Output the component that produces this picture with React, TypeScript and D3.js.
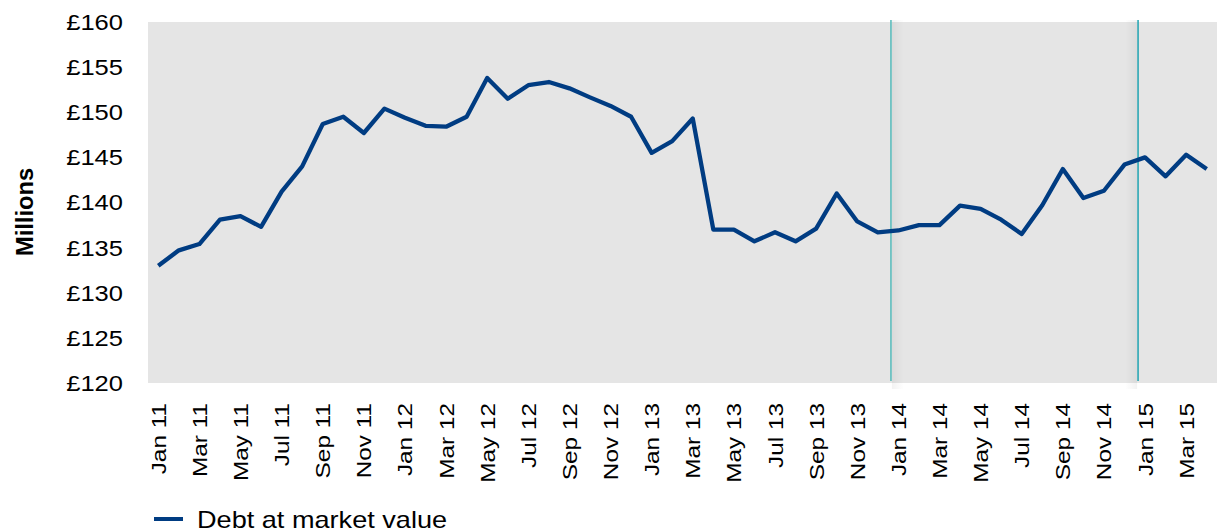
import React from "react";
import * as d3 from "d3";

const months = [
  "Jan 11","Feb 11","Mar 11","Apr 11","May 11","Jun 11","Jul 11","Aug 11","Sep 11","Oct 11","Nov 11","Dec 11",
  "Jan 12","Feb 12","Mar 12","Apr 12","May 12","Jun 12","Jul 12","Aug 12","Sep 12","Oct 12","Nov 12","Dec 12",
  "Jan 13","Feb 13","Mar 13","Apr 13","May 13","Jun 13","Jul 13","Aug 13","Sep 13","Oct 13","Nov 13","Dec 13",
  "Jan 14","Feb 14","Mar 14","Apr 14","May 14","Jun 14","Jul 14","Aug 14","Sep 14","Oct 14","Nov 14","Dec 14",
  "Jan 15","Feb 15","Mar 15","Apr 15",
];

const debtAtMarketValue = [
  133.0,134.7,135.4,138.1,138.5,137.3,141.2,144.0,148.7,149.5,147.7,150.4,
  149.4,148.5,148.4,149.5,153.8,151.5,153.0,153.35,152.65,151.65,150.7,149.5,
  145.5,146.8,149.3,137.0,137.0,135.7,136.7,135.7,137.1,141.0,137.9,136.7,
  136.9,137.5,137.5,139.65,139.3,138.1,136.5,139.7,143.7,140.5,141.3,144.2,
  145.0,142.9,145.3,143.7,
];

const yTicks = [120, 125, 130, 135, 140, 145, 150, 155, 160];

// vertical markers: [month label, fraction of a month after it, shadow side, colour]
const markers: [string, number, "right" | "left", string][] = [
  ["Dec 13", 0.64, "right", "#5cbcbc"],
  ["Dec 14", 0.66, "left", "#2ba6b4"],
];

const FONT = "'Liberation Sans', Arial, sans-serif";
const W = 1217, H = 531;
const plot = { left: 148, right: 1217, top: 22, bottom: 383 };

export default function App() {
  const x = d3.scaleBand<string>().domain(months).range([plot.left, plot.right]).padding(0);
  const bw = x.bandwidth();
  const cx = (m: string) => (x(m) as number) + bw / 2;
  const y = d3.scaleLinear().domain([120, 160]).range([plot.bottom, plot.top]);

  const line = d3
    .line<number>()
    .x((_, i) => cx(months[i]))
    .y((d) => y(d))
    .curve(d3.curveLinear);

  const tickMonths = months.filter((_, i) => i % 2 === 0);

  return (
    <svg width={W} height={H} style={{ position: "absolute", left: 0, top: 0 }} fontFamily={FONT}>
      <defs>
        <linearGradient id="shR" x1="0" x2="1" y1="0" y2="0">
          <stop offset="0" stopColor="#000" stopOpacity="0.05" />
          <stop offset="1" stopColor="#000" stopOpacity="0" />
        </linearGradient>
        <linearGradient id="shL" x1="1" x2="0" y1="0" y2="0">
          <stop offset="0" stopColor="#000" stopOpacity="0.05" />
          <stop offset="1" stopColor="#000" stopOpacity="0" />
        </linearGradient>
      </defs>
      <rect x={plot.left} y={plot.top} width={plot.right - plot.left} height={plot.bottom - plot.top} fill="#e5e5e5" />

      {markers.map(([m, f, side, col], i) => {
        const mx = cx(m) + f * bw;
        return (
          <g key={i}>
            <rect
              x={side === "right" ? mx + 1 : mx - 13}
              y={plot.top - 2}
              width={12}
              height={plot.bottom - plot.top + 8}
              fill={side === "right" ? "url(#shR)" : "url(#shL)"}
            />
            <line x1={mx} x2={mx} y1={plot.top - 2} y2={plot.bottom - 2} stroke={col} strokeWidth={1.6} />
          </g>
        );
      })}

      <path d={line(debtAtMarketValue) as string} fill="none" stroke="#003c82" strokeWidth={4.3} strokeLinejoin="round" />

      {yTicks.map((t) => (
        <text
          key={t}
          transform={`translate(123,${y(t)}) scale(1.16,1)`}
          dy="0.36em"
          textAnchor="end"
          fontSize={22}
          fill="#000"
        >
          {"£" + t}
        </text>
      ))}

      {tickMonths.map((m) => (
        <text
          key={m}
          transform={`translate(${cx(m) + 7.5},${plot.bottom + 20}) rotate(-90) scale(1.16,1)`}
          textAnchor="end"
          fontSize={21}
          fill="#000"
        >
          {m}
        </text>
      ))}

      <text transform={`translate(32.5,212) rotate(-90) scale(1.03,1)`} textAnchor="middle" fontSize={23} fontWeight="bold">
        Millions
      </text>

      <line x1={154} x2={183} y1={519} y2={519} stroke="#003c82" strokeWidth={4} />
      <text transform="translate(197,527.5) scale(1.13,1)" fontSize={24} fill="#000">
        Debt at market value
      </text>
    </svg>
  );
}
